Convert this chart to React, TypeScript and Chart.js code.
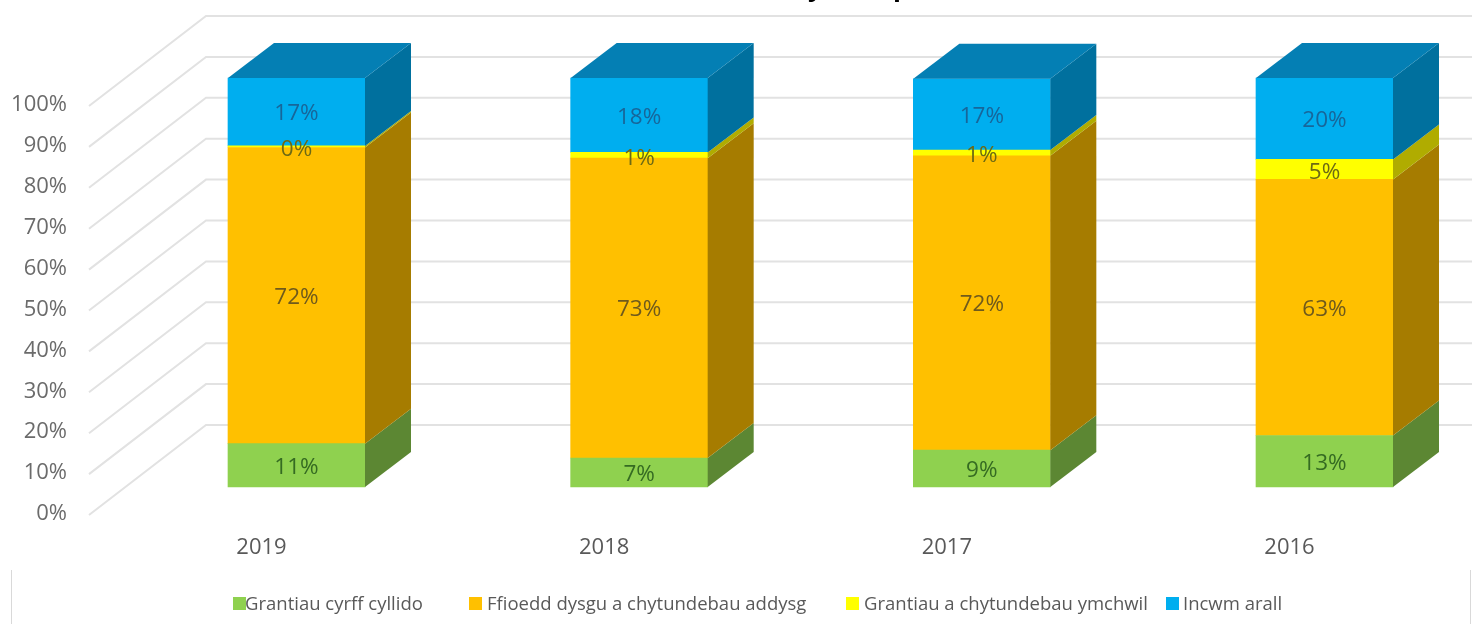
import React, { useEffect, useRef } from "react";
import { Chart, registerables } from "chart.js";

Chart.register(...registerables);

const years = ["2019", "2018", "2017", "2016"];
const fundingGrants = [10.6, 7.1, 9.0, 12.6];
const tuitionFees = [72.4, 73.3, 72.0, 62.6];
const researchGrants = [0.4, 1.4, 1.4, 4.9];
const otherIncome = [16.6, 18.2, 17.4, 19.9];

const seriesNames = [
  "Grantiau cyrff cyllido",
  "Ffioedd dysgu a chytundebau addysg",
  "Grantiau a chytundebau ymchwil",
  "Incwm arall",
];
const frontColors = ["#8fd14f", "#ffc000", "#ffff00", "#00aeef"];
const sideColors = ["#5c8733", "#a67c00", "#b0ac00", "#00709e"];
const labelColors = ["#356b22", "#6f5a1c", "#6d6a14", "#17669a"];
const topColor = "#047fb4";
const legendBoxX = [233, 469, 846, 1166];

const FONT = '"Open Sans", "Noto Sans", sans-serif';
const DEPTH_X = 46;
const DEPTH_Y = 35;

const scenePlugin = {
  id: "scene",
  beforeDatasetsDraw(chart: any) {
    const { ctx, scales } = chart;
    const y = scales.y;
    ctx.save();
    // only the descenders of the title are on the page
    ctx.fillStyle = "#000";
    ctx.font = `bold 26px ${FONT}`;
    ctx.textAlign = "left";
    ctx.textBaseline = "alphabetic";
    ctx.fillText("y", 808, -4);
    ctx.fillText("p", 893, -4);
    // 3-D walls: each grid line runs along the floor and then along the back wall
    ctx.strokeStyle = "#e2e2e2";
    ctx.lineWidth = 2;
    y.ticks.forEach((t: any) => {
      const py = y.getPixelForValue(t.value);
      ctx.beginPath();
      ctx.moveTo(89, py + 28);
      ctx.lineTo(206, py - 62);
      ctx.lineTo(1472, py - 62);
      ctx.stroke();
    });
    // legend frame remains
    ctx.strokeStyle = "#d9d9d9";
    ctx.lineWidth = 1;
    ctx.beginPath();
    ctx.moveTo(11.5, 570);
    ctx.lineTo(11.5, 624);
    ctx.moveTo(1470.5, 570);
    ctx.lineTo(1470.5, 624);
    ctx.stroke();
    ctx.restore();
  },
  afterDatasetsDraw(chart: any) {
    const { ctx, data } = chart;
    ctx.save();
    // side faces and top faces from the bar elements
    data.datasets.forEach((ds: any, i: number) => {
      chart.getDatasetMeta(i).data.forEach((bar: any) => {
        const r = bar.x + bar.width / 2;
        ctx.fillStyle = sideColors[i];
        ctx.beginPath();
        ctx.moveTo(r, bar.y);
        ctx.lineTo(r + DEPTH_X, bar.y - DEPTH_Y);
        ctx.lineTo(r + DEPTH_X, bar.base - DEPTH_Y);
        ctx.lineTo(r, bar.base);
        ctx.closePath();
        ctx.fill();
        if (i === data.datasets.length - 1) {
          const l = bar.x - bar.width / 2;
          ctx.fillStyle = topColor;
          ctx.beginPath();
          ctx.moveTo(l, bar.y);
          ctx.lineTo(l + DEPTH_X, bar.y - DEPTH_Y);
          ctx.lineTo(r + DEPTH_X, bar.y - DEPTH_Y);
          ctx.lineTo(r, bar.y);
          ctx.closePath();
          ctx.fill();
        }
      });
    });
    // data labels
    ctx.font = `22.5px ${FONT}`;
    ctx.textAlign = "center";
    ctx.textBaseline = "middle";
    data.datasets.forEach((ds: any, i: number) => {
      chart.getDatasetMeta(i).data.forEach((bar: any, j: number) => {
        ctx.fillStyle = labelColors[i];
        const shift = i === 2 ? 3 : 2;
        ctx.fillText(`${Math.round(ds.data[j])}%`, bar.x, (bar.y + bar.base) / 2 + shift);
      });
    });
    // legend
    ctx.font = `18.5px ${FONT}`;
    ctx.textAlign = "left";
    data.datasets.forEach((ds: any, i: number) => {
      const x = legendBoxX[i];
      ctx.fillStyle = ds.backgroundColor;
      ctx.fillRect(x, 597, 13, 13);
      ctx.fillStyle = "#595959";
      ctx.fillText(ds.label, x + (i === 0 ? 12 : i === 3 ? 17 : 18), 605);
    });
    ctx.restore();
  },
};

export default function App() {
  const ref = useRef<HTMLCanvasElement | null>(null);
  useEffect(() => {
    const series = [fundingGrants, tuitionFees, researchGrants, otherIncome];
    const chart = new Chart(ref.current as HTMLCanvasElement, {
      type: "bar",
      data: {
        labels: years,
        datasets: series.map((values, i) => ({
          label: seriesNames[i],
          data: values,
          backgroundColor: frontColors[i],
          barThickness: 137,
          clip: false as any,
        })),
      },
      plugins: [scenePlugin],
      options: {
        animation: false,
        responsive: false,
        devicePixelRatio: 1,
        layout: { autoPadding: false, padding: { top: 78, right: 147.5, left: 0, bottom: 0 } },
        plugins: { legend: { display: false }, title: { display: false }, tooltip: { enabled: false } },
        scales: {
          x: {
            stacked: true,
            offset: false,
            grid: { display: false, drawTicks: false },
            border: { display: false },
            afterFit(s: any) {
              s.height = 137;
              s.paddingLeft = 0;
              s.paddingRight = 0;
            },
            ticks: {
              autoSkip: false,
              maxRotation: 0,
              padding: 48,
              labelOffset: -35,
              color: "#595959",
              font: { family: FONT, size: 22 },
            },
          },
          y: {
            stacked: true,
            min: 0,
            max: 100,
            grid: { display: false, drawTicks: false },
            border: { display: false },
            afterFit(s: any) {
              s.width = 296.5;
              s.paddingTop = 0;
              s.paddingBottom = 0;
            },
            ticks: {
              stepSize: 10,
              padding: 229.5,
              labelOffset: 27,
              color: "#6b6b6b",
              font: { family: FONT, size: 22 },
              callback: (v: any) => `${v}%`,
            },
          },
        },
      },
    });
    return () => chart.destroy();
  }, []);
  return (
    <div style={{ position: "absolute", left: 0, top: 0, width: 1472, height: 624, overflow: "hidden", background: "#fff" }}>
      <canvas ref={ref} width={1472} height={624} style={{ display: "block" }} />
    </div>
  );
}
